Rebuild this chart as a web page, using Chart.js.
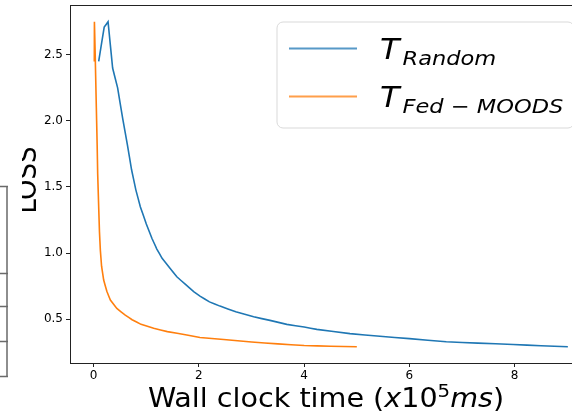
<!DOCTYPE html>
<html>
<head>
<meta charset="utf-8">
<script src="https://cdn.jsdelivr.net/npm/chart.js@4.4.1/dist/chart.umd.min.js"></script>
<style>
html,body{margin:0;padding:0;background:#fff;overflow:hidden;}
#wrap{width:572px;height:414px;overflow:hidden;position:relative;}
canvas{display:block;}
</style>
</head>
<body>
<div id="wrap"><canvas id="c" width="600" height="414"></canvas></div>
<script>
// ---- data ----
const randomX = [0.095,0.2,0.273,0.36,0.455,0.55,0.64,0.72,0.8,0.886,1.0,1.108,1.2,1.3,1.45,1.58,1.75,1.9,2.02,2.2,2.4,2.7,3.04,3.35,3.67,4.0,4.24,4.87,5.44,6.0,6.7,7.3,7.97,8.5,9.01];
const randomLoss = [2.45,2.71,2.75,2.40,2.25,2.02,1.82,1.63,1.48,1.35,1.22,1.11,1.03,0.96,0.885,0.82,0.76,0.707,0.674,0.63,0.598,0.555,0.517,0.49,0.46,0.44,0.422,0.39,0.37,0.352,0.328,0.318,0.308,0.298,0.29];
const fedX = [0.012,0.014,0.03,0.045,0.056,0.066,0.076,0.095,0.11,0.127,0.15,0.19,0.25,0.317,0.44,0.6,0.73,0.9,1.14,1.4,1.77,2.02,2.47,3.0,3.5,4.0,4.5,5.0];
const fedLoss = [2.45,2.75,2.48,2.2,2.0,1.82,1.6,1.35,1.16,1.02,0.9,0.795,0.71,0.644,0.58,0.53,0.495,0.46,0.43,0.405,0.38,0.361,0.345,0.326,0.312,0.30,0.294,0.29];
const xTicks = [0,2,4,6,8];
const yTicks = [0.5,1.0,1.5,2.0,2.5];
const seriesBase = ["T","T"];
const seriesSub = ["Random","Fed \u2212 MOODS"];
const xTitleRuns = [
  {t:"Wall clock time (", s:"normal"},
  {t:"x", s:"italic"},
  {t:"10", s:"normal"},
  {t:"5", s:"sup"},
  {t:"ms", s:"italic"},
  {t:")", s:"normal"}
];
const yTitle = "LOSS";
const colors = ["#1f77b4","#ff7f0e"];

const FONT = "'DejaVu Sans', sans-serif";
const SX = 1.1;

function drawRuns(ctx, runs, cx, baseline, size, sx){
  const fontFor = r => r.s==="italic" ? `italic ${size}px ${FONT}` : r.s==="sup" ? `${Math.round(size*0.68)}px ${FONT}` : `${size}px ${FONT}`;
  let total = 0;
  const ws = runs.map(r => { ctx.font = fontFor(r); const w = ctx.measureText(r.t).width*sx; total += w; return w; });
  let x = cx - total/2;
  runs.forEach((r,i)=>{
    ctx.save();
    ctx.font = fontFor(r);
    ctx.translate(x, baseline - (r.s==="sup" ? size*0.37 : 0));
    ctx.scale(sx,1);
    ctx.fillText(r.t, 0, 0);
    ctx.restore();
    x += ws[i];
  });
}

const decor = {
  id:'decor',
  beforeDatasetsDraw(chart){
    const {ctx, chartArea:a} = chart;
    ctx.save();
    ctx.strokeStyle = '#222';
    ctx.lineWidth = 1;
    ctx.strokeRect(Math.round(a.left)+0.5, Math.round(a.top)+0.5, Math.round(a.right-a.left), Math.round(a.bottom-a.top));
    ctx.restore();
  },
  afterDraw(chart){
    const {ctx} = chart;
    ctx.save();
    ctx.fillStyle = '#000';
    ctx.textBaseline = 'alphabetic';
    // x title
    drawRuns(ctx, xTitleRuns, 326, 407, 26, SX);
    // y title
    ctx.save();
    ctx.translate(36, 180);
    ctx.rotate(-Math.PI/2);
    ctx.scale(1, SX);
    ctx.font = `26px ${FONT}`;
    ctx.textAlign = 'center';
    ctx.fillText(yTitle, 0, 0);
    ctx.restore();
    // left crop edge
    ctx.fillStyle = '#fff';
    ctx.fillRect(0, 0, 22, 414);
    // stray frame lines at left edge
    ctx.strokeStyle = '#6a6a6a';
    ctx.lineWidth = 1.5;
    ctx.beginPath();
    ctx.moveTo(7, 186.5); ctx.lineTo(7, 376.5);
    [186.5, 273.5, 306.5, 341.5, 376.5].forEach(y=>{ ctx.moveTo(0,y); ctx.lineTo(8,y); });
    ctx.stroke();

    // legend
    const bx = 277, by = 22, bw = 297, bh = 106, r = 6;
    ctx.beginPath();
    ctx.moveTo(bx+r, by); ctx.lineTo(bx+bw-r, by); ctx.arcTo(bx+bw, by, bx+bw, by+r, r);
    ctx.lineTo(bx+bw, by+bh-r); ctx.arcTo(bx+bw, by+bh, bx+bw-r, by+bh, r);
    ctx.lineTo(bx+r, by+bh); ctx.arcTo(bx, by+bh, bx, by+bh-r, r);
    ctx.lineTo(bx, by+r); ctx.arcTo(bx, by, bx+r, by, r);
    ctx.closePath();
    ctx.fillStyle = 'rgba(255,255,255,0.8)';
    ctx.fill();
    ctx.strokeStyle = '#d9d9d9';
    ctx.lineWidth = 1;
    ctx.stroke();
    const rows = [{ly:48.5, tb:58.5, sb:64.5}, {ly:96.5, tb:106.5, sb:112.5}];
    chart.data.datasets.forEach((ds,i)=>{
      const rw = rows[i];
      ctx.strokeStyle = ds.borderColor;
      ctx.globalAlpha = 0.75;
      ctx.lineWidth = 2;
      ctx.beginPath(); ctx.moveTo(289, rw.ly); ctx.lineTo(357, rw.ly); ctx.stroke();
      ctx.globalAlpha = 1;
      ctx.fillStyle = '#000';
      ctx.font = `italic 29px ${FONT}`;
      const tw = ctx.measureText(seriesBase[i]).width*SX;
      ctx.save(); ctx.translate(380, rw.tb); ctx.scale(SX,1); ctx.fillText(seriesBase[i],0,0); ctx.restore();
      ctx.font = `italic 19.5px ${FONT}`;
      ctx.save(); ctx.translate(380+tw+3, rw.sb); ctx.scale(SX*1.05,1); ctx.fillText(seriesSub[i],0,0); ctx.restore();
    });
    ctx.restore();
  }
};

const tickFont = {family:"'DejaVu Sans', sans-serif", size:12};

new Chart(document.getElementById('c'), {
  type:'line',
  data:{
    datasets:[
      {label:seriesBase[0]+"_"+seriesSub[0], data:randomX.map((x,i)=>({x, y:randomLoss[i]})), borderColor:colors[0], backgroundColor:colors[0], borderWidth:1.6, pointRadius:0, tension:0.0001, fill:false},
      {label:seriesBase[1]+"_"+seriesSub[1], data:fedX.map((x,i)=>({x, y:fedLoss[i]})), borderColor:colors[1], backgroundColor:colors[1], borderWidth:1.6, pointRadius:0, tension:0.0001, fill:false}
    ]
  },
  options:{
    responsive:false, animation:false, devicePixelRatio:1,
    layout:{padding:{left:0, top:5, right:9, bottom:0}},
    plugins:{legend:{display:false}, tooltip:{enabled:false}},
    scales:{
      x:{type:'linear', min:-0.45, max:9.45,
        afterFit(s){ s.height = 51; s.paddingLeft = 0; s.paddingRight = 0; },
        afterBuildTicks(s){ s.ticks = xTicks.map(v=>({value:v})); },
        grid:{display:true, drawOnChartArea:false, drawTicks:true, tickLength:4, color:'#222'},
        border:{display:false},
        ticks:{font:tickFont, color:'#000', padding:2, maxRotation:0, autoSkip:false, callback:v=>String(v)}
      },
      y:{type:'linear', min:0.1675, max:2.877,
        afterFit(s){ s.width = 70; s.paddingTop = 0; s.paddingBottom = 0; },
        afterBuildTicks(s){ s.ticks = yTicks.map(v=>({value:v})); },
        grid:{display:true, drawOnChartArea:false, drawTicks:true, tickLength:4, color:'#222'},
        border:{display:false},
        ticks:{font:tickFont, color:'#000', padding:3, autoSkip:false, callback:v=>Number(v).toFixed(1)}
      }
    }
  },
  plugins:[decor]
});
</script>
</body>
</html>
